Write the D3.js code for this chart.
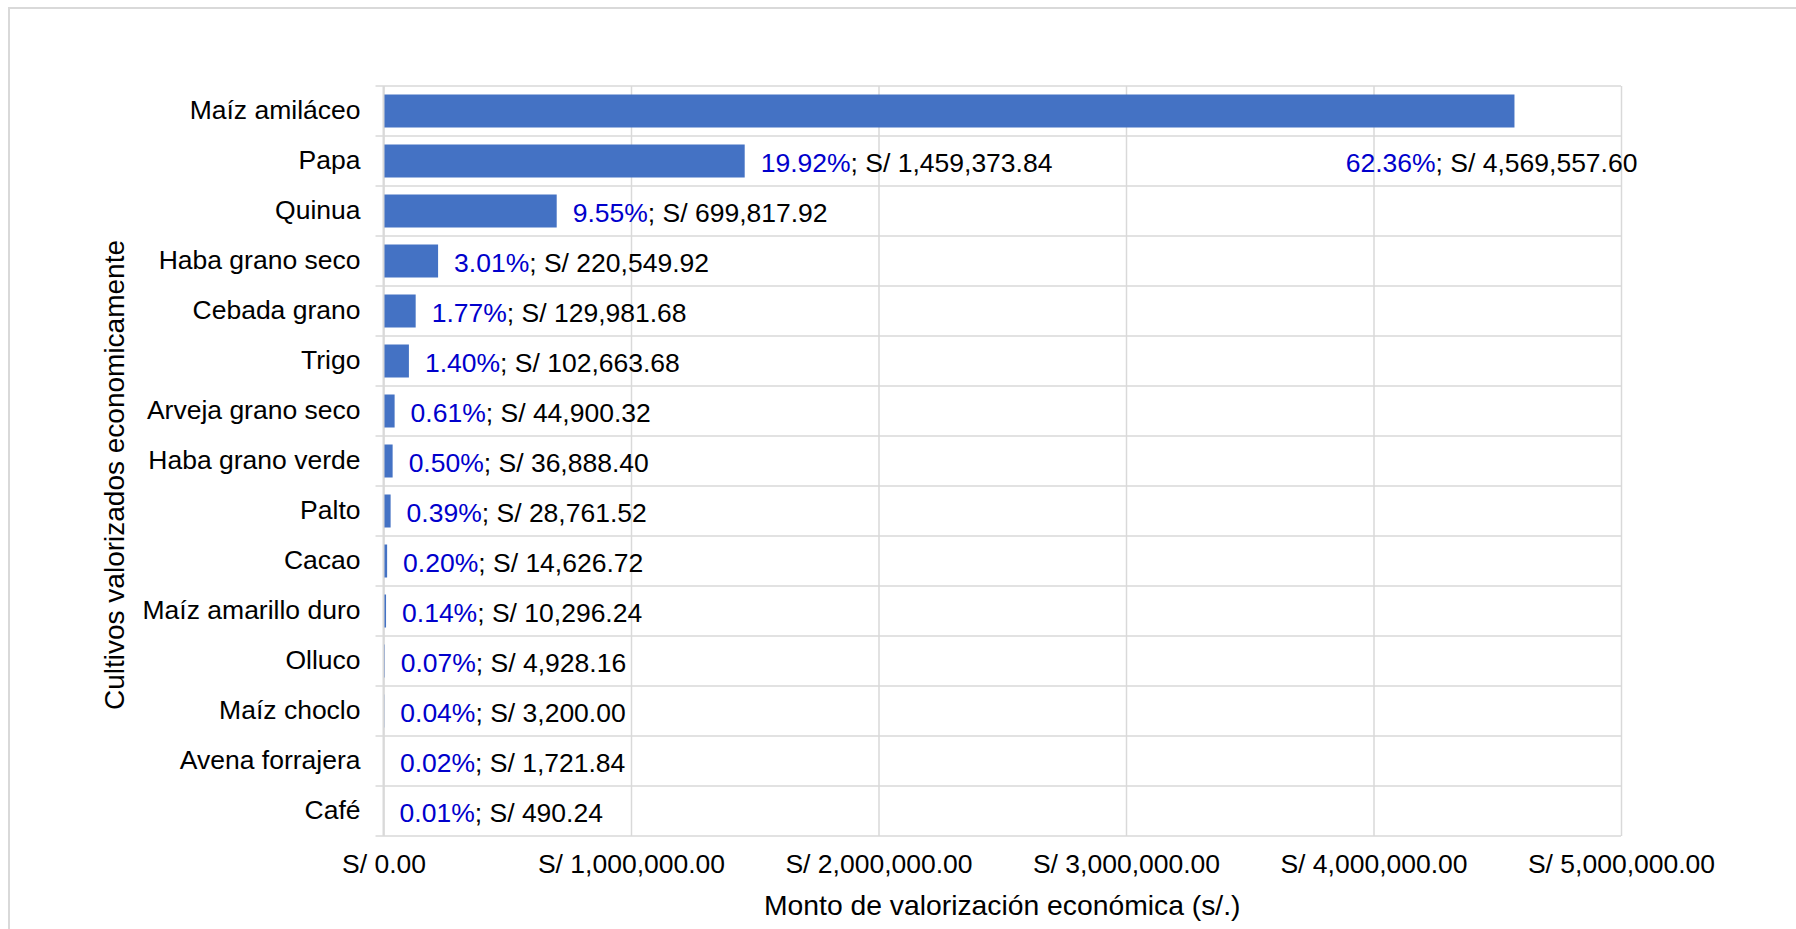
<!DOCTYPE html>
<html>
<head>
<meta charset="utf-8">
<script src="https://cdn.jsdelivr.net/npm/d3@7"></script>
<style>
body { margin: 0; background: #fff; }
text { font-family: "Liberation Sans", Arial, sans-serif; }
</style>
</head>
<body>
<div id="chart"></div>
<script>
// data
var cultivos = ["Maíz amiláceo", "Papa", "Quinua", "Haba grano seco", "Cebada grano", "Trigo",
  "Arveja grano seco", "Haba grano verde", "Palto", "Cacao", "Maíz amarillo duro", "Olluco",
  "Maíz choclo", "Avena forrajera", "Café"];
var montos = [4569557.60, 1459373.84, 699817.92, 220549.92, 129981.68, 102663.68,
  44900.32, 36888.40, 28761.52, 14626.72, 10296.24, 4928.16, 3200.00, 1721.84, 490.24];
var porcentajes = ["62.36%", "19.92%", "9.55%", "3.01%", "1.77%", "1.40%", "0.61%", "0.50%",
  "0.39%", "0.20%", "0.14%", "0.07%", "0.04%", "0.02%", "0.01%"];
var xTicks = [0, 1000000, 2000000, 3000000, 4000000, 5000000];

var data = cultivos.map(function(c, i) {
  return {name: c, value: montos[i], pct: porcentajes[i]};
});

// set the dimensions and margins of the graph
var margin = {top: 86, right: 175, bottom: 93, left: 383.5},
    width = 1796 - margin.left - margin.right,
    height = 929 - margin.top - margin.bottom;

var grid = "#d9d9d9";
var money = d3.format(",.2f");

var x = d3.scaleLinear()
    .domain([0, 5000000])
    .range([0, width]);
var y = d3.scaleBand()
    .domain(cultivos)
    .range([0, height])
    .paddingInner(0.34)
    .paddingOuter(0.17);

var root = d3.select("#chart").append("svg")
    .attr("width", 1796)
    .attr("height", 929);

// outer chart frame
root.append("rect")
    .attr("x", 9).attr("y", 8)
    .attr("width", 1800).attr("height", 940)
    .style("fill", "none")
    .style("stroke", grid)
    .style("stroke-width", 2);

var svg = root.append("g")
    .attr("transform", "translate(" + margin.left + "," + margin.top + ")");

// vertical gridlines
svg.append("g")
    .attr("class", "grid")
    .attr("transform", "translate(0," + height + ")")
    .call(d3.axisBottom(x).tickValues(xTicks).tickSize(-height).tickFormat(""))
    .call(function(g) { g.select(".domain").remove(); })
    .selectAll("line")
    .style("stroke", grid)
    .style("stroke-width", 1.5);

// horizontal category lines (with small ticks on the left)
var bounds = d3.range(cultivos.length + 1);
svg.append("g").selectAll("line")
    .data(bounds)
  .enter().append("line")
    .attr("x1", -8)
    .attr("x2", width)
    .attr("y1", function(i) { return i * y.step(); })
    .attr("y2", function(i) { return i * y.step(); })
    .style("stroke", grid)
    .style("stroke-width", 1.5);

// bars
svg.selectAll(".bar")
    .data(data)
  .enter().append("rect")
    .attr("class", "bar")
    .attr("x", 0)
    .attr("y", function(d) { return y(d.name); })
    .attr("width", function(d) { return x(d.value); })
    .attr("height", y.bandwidth())
    .style("fill", "#4472C4");

// category axis line
svg.append("line")
    .attr("x1", 0).attr("x2", 0)
    .attr("y1", 0).attr("y2", height)
    .style("stroke", grid)
    .style("stroke-width", 2);

// y axis labels
svg.append("g")
    .call(d3.axisLeft(y).tickSize(0).tickPadding(23))
    .call(function(g) { g.select(".domain").remove(); })
    .selectAll("text")
    .style("font-family", "'Liberation Sans', Arial, sans-serif")
    .style("font-size", "26.5px")
    .style("fill", "#000");

// x axis labels
svg.append("g")
    .attr("transform", "translate(0," + height + ")")
    .call(d3.axisBottom(x).tickValues(xTicks).tickSize(0).tickPadding(18)
      .tickFormat(function(d) { return "S/ " + money(d); }))
    .call(function(g) { g.select(".domain").remove(); })
    .selectAll("text")
    .style("font-family", "'Liberation Sans', Arial, sans-serif")
    .style("font-size", "26.5px")
    .style("fill", "#000");

// data labels
var labels = svg.selectAll(".label")
    .data(data)
  .enter().append("text")
    .attr("class", "label")
    .attr("x", function(d, i) { return i == 0 ? x(d.value) + 123 : x(d.value) + 16; })
    .attr("y", function(d, i) { return y(d.name) + y.bandwidth() / 2 + (i == 0 ? y.step() : 0) + 2; })
    .attr("dy", ".35em")
    .attr("text-anchor", function(d, i) { return i == 0 ? "end" : "start"; })
    .style("font-size", "26.5px");
labels.append("tspan")
    .style("fill", "#0000CC")
    .text(function(d) { return d.pct; });
labels.append("tspan")
    .style("fill", "#000")
    .text(function(d) { return "; S/ " + money(d.value); });

// text label for the y axis
svg.append("text")
    .attr("transform", "rotate(-90)")
    .attr("x", 0 - (height / 2) - 14)
    .attr("y", 114 - margin.left)
    .attr("dy", ".35em")
    .style("text-anchor", "middle")
    .style("font-size", "28px")
    .text("Cultivos valorizados economicamente");

// text label for the x axis
svg.append("text")
    .attr("x", width / 2)
    .attr("y", height + 69)
    .attr("dy", ".35em")
    .style("text-anchor", "middle")
    .style("font-size", "28.3px")
    .text("Monto de valorización económica (s/.)");
</script>
</body>
</html>
